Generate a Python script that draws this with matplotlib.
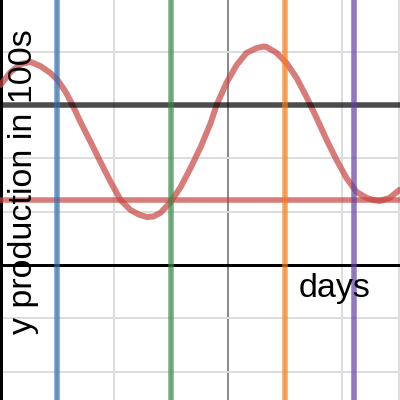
import numpy as np
import matplotlib.pyplot as plt

# =============================================================================
# data (grid units)
# =============================================================================
# production curve
days = [0.000, 0.176, 0.352, 0.528, 0.704, 0.880, 1.003, 1.143, 1.267, 1.407,
        1.583, 1.759, 1.935, 2.111, 2.287, 2.427, 2.568, 2.690, 2.814, 2.990,
        3.166, 3.342, 3.518, 3.694, 3.799, 3.975, 4.151, 4.327, 4.503, 4.630,
        4.679, 4.855, 5.031, 5.207, 5.383, 5.559, 5.734, 5.910, 6.086, 6.262,
        6.438, 6.550, 6.667, 6.843, 7.018]
prod = [3.38, 3.62, 3.77, 3.81, 3.73, 3.60, 3.47, 3.25, 3.00, 2.68,
        2.31, 1.93, 1.56, 1.22, 1.03, 0.95, 0.90, 0.91, 0.98, 1.18,
        1.46, 1.82, 2.21, 2.66, 3.00, 3.42, 3.75, 3.98, 4.07, 4.10,
        4.09, 3.98, 3.79, 3.51, 3.15, 2.76, 2.35, 1.97, 1.63, 1.37,
        1.26, 1.22, 1.20, 1.26, 1.41]

# horizontal reference lines
h_lines = [3.0, 1.22]
h_colors = ['#000000', '#c74440']

# vertical reference lines
v_lines = [1.0, 3.0, 5.0, 6.21]
v_colors = ['#2d70b3', '#388c46', '#fa7e19', '#6042a6']

# grid
x_grid = [1, 2, 3, 5, 6, 7]
x_major = [4]
y_grid = [-2, -1, 1, 2, 4]

xlabel = "days"
ylabel = "y production in 100s"

# =============================================================================
# plot
# =============================================================================
plt.rcParams['font.family'] = ['Liberation Sans', 'DejaVu Sans']

fig = plt.figure(figsize = (4, 4), dpi = 100)
ax = fig.add_axes([0, 0, 1, 1])
ax.set_xlim(-0.01, 7.026)
ax.set_ylim(-2.533, 4.972)
ax.axis('off')

px = 0.72  # points per pixel

for g in x_grid:
    ax.axvline(g, color = '#dddddd', lw = 2 * px, zorder = 1)
for g in x_major:
    ax.axvline(g, color = '#8a8a8a', lw = 2 * px, zorder = 1)
for g in y_grid:
    ax.axhline(g, color = '#dddddd', lw = 2 * px, zorder = 1)

# axes
ax.axhline(0, color = 'black', lw = 3 * px, zorder = 2)
ax.axvline(0, color = 'black', lw = 3 * px, zorder = 2)

# curve
ax.plot(days, prod, color = '#c74440', alpha = 0.7, lw = 6 * px,
        solid_capstyle = 'round', solid_joinstyle = 'round', zorder = 3)

for h, c in zip(h_lines, h_colors):
    ax.axhline(h, color = c, alpha = 0.7, lw = 5.5 * px, zorder = 4)
for v, c in zip(v_lines, v_colors):
    ax.axvline(v, color = c, alpha = 0.7, lw = 5.5 * px, zorder = 4)

# labels
ax.text(0.7475, 0.2575, xlabel, fontsize = 24.5, ha = 'left', va = 'baseline',
        transform = ax.transAxes, zorder = 5)
ax.text(0.08, 0.545, ylabel, fontsize = 24.5, rotation = 90,
        rotation_mode = 'anchor', ha = 'center', va = 'baseline',
        transform = ax.transAxes, zorder = 5)

fig.savefig("out.png", dpi = 100)
